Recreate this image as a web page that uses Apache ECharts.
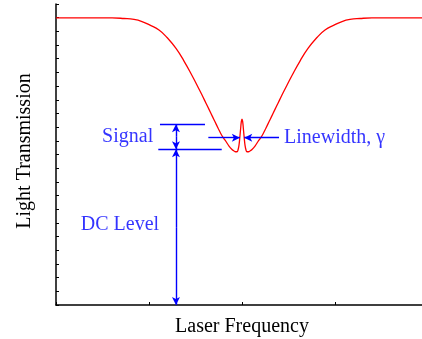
<!DOCTYPE html>
<html>
<head>
<meta charset="utf-8">
<script src="https://cdn.jsdelivr.net/npm/echarts@6/dist/echarts.min.js"></script>
<style>
html,body{margin:0;padding:0;background:#fff;}
#chart{width:422px;height:339px;}
</style>
</head>
<body>
<div id="chart"></div>
<script>
// Laser frequency (arbitrary units) and light transmission (arbitrary units)
const freq = [
  0.0, 0.6022, 0.7312, 0.8387, 0.9247, 1.0108, 1.1075, 1.1935, 1.2903, 1.3763, 1.4624, 1.543, 1.5806, 1.6129,
  1.6452, 1.6828, 1.7097, 1.7419, 1.7742, 1.8022, 1.828, 1.8602, 1.8925, 1.914, 1.9301, 1.9462, 1.957, 1.9677,
  1.9763, 1.9849, 1.9925, 2.0,
  2.0075, 2.0151, 2.0237, 2.0323, 2.043, 2.0538, 2.0699, 2.086, 2.1075, 2.1398, 2.172, 2.1978, 2.2258, 2.2581,
  2.2903, 2.3172, 2.3548, 2.3871, 2.4194, 2.457, 2.5376, 2.6237, 2.7097, 2.8065, 2.8925, 2.9892, 3.0753, 3.1613,
  3.2688, 3.3978, 4.0
];
const transmission = [
  20.98, 20.98, 20.94, 20.87, 20.72, 20.46, 20.10, 19.55, 18.75, 17.83, 16.77, 15.71, 15.20, 14.75,
  14.30, 13.77, 13.39, 12.94, 12.50, 12.20, 11.95, 11.62, 11.37, 11.26, 11.20, 11.20, 11.33, 11.69,
  12.23, 12.86, 13.38, 13.59,
  13.38, 12.86, 12.23, 11.69, 11.33, 11.20, 11.20, 11.26, 11.37, 11.62, 11.95, 12.20, 12.50, 12.94,
  13.39, 13.77, 14.30, 14.75, 15.20, 15.71, 16.77, 17.83, 18.75, 19.55, 20.10, 20.46, 20.72, 20.87,
  20.94, 20.98, 20.98
];

// annotation levels (data units)
const signalTop = 13.21;
const dcLevel = 11.38;
const arrowX = 1.29;
const signalTopSpan = [1.118, 1.602];
const dcLevelSpan = [1.100, 1.782];
const linewidthY = 12.23;
const linewidthLeft = [1.638, 1.977];
const linewidthRight = [2.398, 2.024];

const labelNames = ['Signal', 'Linewidth, γ', 'DC Level'];
const labelX = [1.045, 2.452, 0.267];
const labelY = [12.28, 12.2, 5.85];

const SERIF = '"Liberation Serif", "Times New Roman", serif';
const BLUE = '#0000ff';

const chart = echarts.init(document.getElementById('chart'), null, {renderer: 'canvas'});

function seg(a, b, symA, symB) {
  return [{coord: a, symbol: symA}, {coord: b, symbol: symB}];
}

const option = {
  animation: false,
  grid: {left: 56, right: -6, top: 4, bottom: 34, containLabel: false, outerBoundsMode: 'none'},
  xAxis: {
    type: 'value', min: 0, max: 4, interval: 1,
    axisLine: {show: true, lineStyle: {color: '#000', width: 1.5}},
    axisTick: {show: true, inside: true, length: 3, lineStyle: {color: '#000', width: 1}},
    axisLabel: {show: false},
    splitLine: {show: false},
    name: 'Laser Frequency', nameLocation: 'middle', nameGap: 12,
    nameTextStyle: {fontFamily: SERIF, fontSize: 20, color: '#000'}
  },
  yAxis: {
    type: 'value', min: 0, max: 22, interval: 1,
    axisLine: {show: true, lineStyle: {color: '#000', width: 1.5}},
    axisTick: {show: true, inside: true, length: 3, lineStyle: {color: '#000', width: 1}},
    axisLabel: {show: false},
    splitLine: {show: false},
    name: 'Light Transmission', nameLocation: 'middle', nameGap: 21,
    nameTextStyle: {fontFamily: SERIF, fontSize: 20, color: '#000', padding: [0, 0, 0, 7]}
  },
  series: [
    {
      type: 'line',
      data: freq.map((f, i) => [f, transmission[i]]),
      showSymbol: false, symbol: 'none',
      smooth: 0.5,
      lineStyle: {color: '#ff0000', width: 1.3},
      z: 3,
      markLine: {
        silent: true,
        animation: false,
        symbolSize: [6, 8],
        label: {show: false},
        emphasis: {disabled: true},
        lineStyle: {color: BLUE, width: 1.4, type: 'solid'},
        data: [
          seg([signalTopSpan[0], signalTop], [signalTopSpan[1], signalTop], 'none', 'none'),
          seg([dcLevelSpan[0], dcLevel], [dcLevelSpan[1], dcLevel], 'none', 'none'),
          seg([arrowX, (signalTop + dcLevel) / 2], [arrowX, signalTop], 'none', 'arrow'),
          seg([arrowX, (signalTop + dcLevel) / 2], [arrowX, dcLevel], 'none', 'arrow'),
          seg([arrowX, dcLevel / 2], [arrowX, dcLevel], 'none', 'arrow'),
          seg([arrowX, dcLevel / 2], [arrowX, 0], 'none', 'arrow'),
          seg([linewidthLeft[0], linewidthY], [linewidthLeft[1], linewidthY], 'none', 'arrow'),
          seg([linewidthRight[0], linewidthY], [linewidthRight[1], linewidthY], 'none', 'arrow')
        ]
      }
    },
    {
      type: 'scatter',
      symbolSize: 0,
      silent: true,
      z: 4,
      data: labelNames.map((n, i) => ({
        value: [labelX[i], labelY[i]],
        name: n,
        label: {position: i === 0 ? 'left' : 'right'}
      })),
      label: {
        show: true, distance: 0,
        formatter: p => p.name,
        fontFamily: SERIF, fontSize: 20, color: BLUE
      }
    }
  ]
};
chart.setOption(option);
</script>
</body>
</html>
